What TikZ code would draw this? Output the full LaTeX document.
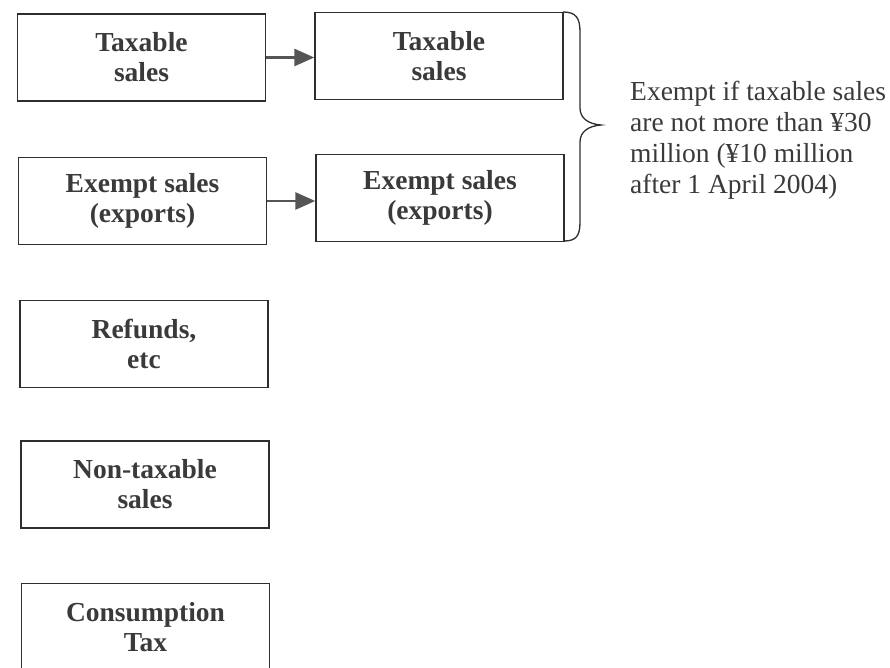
\documentclass[tikz,border=0pt]{standalone}
\usepackage{fontspec}
\setmainfont{Liberation Serif}
\usetikzlibrary{arrows.meta}
\definecolor{ink}{HTML}{3A3A3A}
\definecolor{edge}{HTML}{2E2E2E}
\definecolor{arrowgray}{HTML}{555555}
\begin{document}
\begin{tikzpicture}[x=1pt,y=-1pt,
  salesbox/.style={draw=edge, line width=1.4pt, rectangle, inner sep=0pt,
    minimum width=248pt, minimum height=87pt, align=center, text=ink,
    font=\fontsize{27.5}{30}\selectfont\bfseries},
  flow/.style={draw=arrowgray, line width=2.8pt,
    -{Triangle[length=20pt,width=17pt]}},
  note/.style={anchor=north west, align=left, text=ink, inner sep=0pt,
    font=\fontsize{27.5}{31}\selectfont}]
\useasboundingbox (0,0) rectangle (890,668);

% left column
\node[salesbox] (tax1) at (141.5,57.5) {Taxable\\sales};
\node[salesbox] (exm1) at (142.5,201) {Exempt sales\\(exports)};
\node[salesbox] (ref)  at (144,344)   {Refunds,\\etc};
\node[salesbox] (non)  at (145,484.5) {Non-taxable\\sales};
\node[salesbox] (cons) at (145.5,627) {Consumption\\Tax};

% right column
\node[salesbox] (tax2) at (439,56)  {Taxable\\sales};
\node[salesbox] (exm2) at (440,198) {Exempt sales\\(exports)};

% arrows
\draw[flow] (tax1.east) -- (tax2.west |- tax1.east);
\draw[flow] (exm1.east) -- (exm2.west |- exm1.east);

% brace grouping the right column
\coordinate (bt) at (563,12);
\coordinate (bm) at (601,125);
\coordinate (bb) at (564,241);
\draw[edge, line width=1.3pt]
  (bt) .. controls (576,12) and (580,18) .. (580,32)
  -- (580,108) .. controls (580,118) and (588,124) .. (bm)
  .. controls (588,126) and (580,132) .. (580,142)
  -- (580,222) .. controls (580,236) and (576,241) .. (bb);

\node[note] (cond) at (630,81) {Exempt if taxable sales\\are not more than ¥30\\million (¥10 million\\after 1 April 2004)};
\end{tikzpicture}
\end{document}
